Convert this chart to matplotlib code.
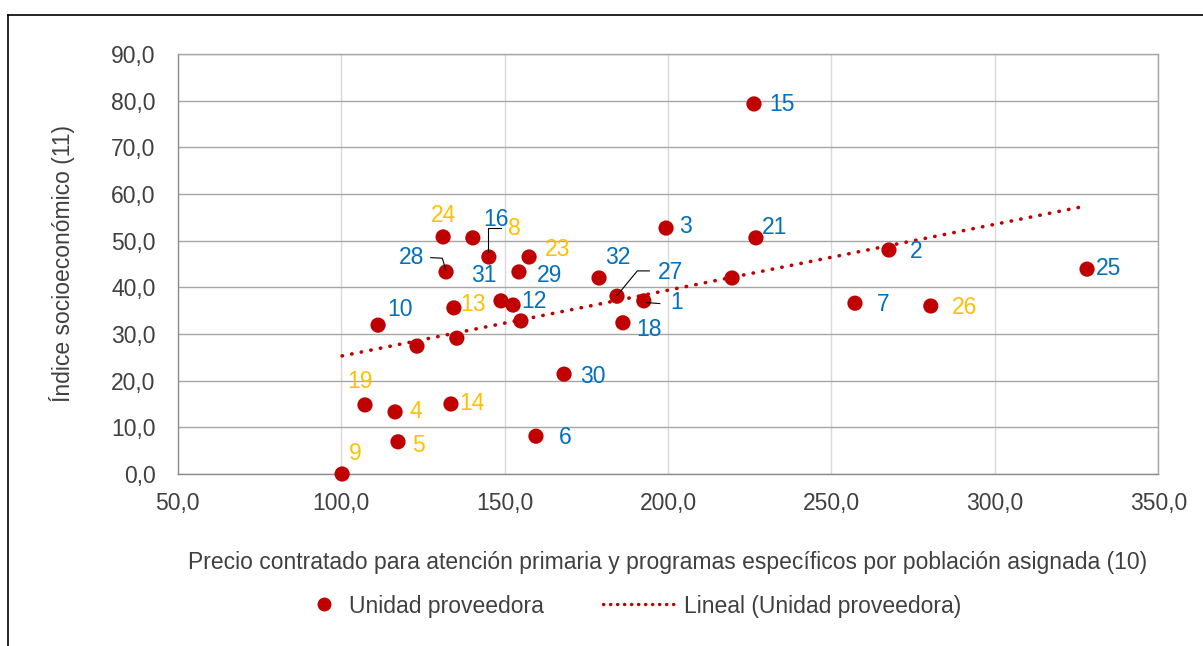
import matplotlib
matplotlib.use("Agg")
import matplotlib.pyplot as plt
import matplotlib.transforms as mtransforms
from matplotlib.lines import Line2D
import numpy as np

# data (x = precio contratado, y = indice socioeconomico)
precio = [226.3, 199.4, 226.9, 267.6, 328.2, 257.2, 280.4, 219.6,
          131.2, 140.3, 145.2, 157.5, 132.1, 154.4, 178.9, 184.4,
          192.6, 148.9, 152.6, 134.5, 111.3, 155.0, 186.2, 135.4,
          123.2, 168.2, 107.3, 116.5, 133.6, 117.4, 159.6, 100.3]
indice = [79.3, 52.7, 50.6, 48.0, 43.9, 36.6, 36.0, 42.0,
          50.8, 50.6, 46.5, 46.5, 43.3, 43.3, 42.0, 38.1,
          37.1, 37.1, 36.2, 35.6, 31.9, 32.8, 32.4, 29.1,
          27.4, 21.4, 14.8, 13.3, 15.0, 6.9, 8.1, 0.0]
etiquetas = ['15', '3', '21', '2', '25', '7', '26', '',
             '24', '8', '16', '23', '28', '29', '32', '27',
             '1', '31', '12', '13', '10', '', '18', '',
             '', '30', '19', '4', '14', '5', '6', '9']
amarillas = ['24', '8', '23', '13', '19', '4', '5', '9', '14', '26']

x_ticks = [50, 100, 150, 200, 250, 300, 350]
y_ticks = [0, 10, 20, 30, 40, 50, 60, 70, 80, 90]

x_title = 'Precio contratado para atención primaria y programas específicos por población asignada (10)'
y_title = 'Índice socioeconómico (11)'
leg_points = 'Unidad proveedora'
leg_trend = 'Lineal (Unidad proveedora)'

# label placement, pixels from the dot (left edge of text, vertical centre)
OFFSETS = {
    '15': (15, -1), '3': (13, 2), '21': (6, 10), '2': (21, -1), '25': (9, 1),
    '7': (22, -1), '26': (21, -1), '24': (-12, 21), '16': (-6, 38), '8': (35, 9),
    '28': (-47, 14), '23': (16, 8), '29': (18, -4), '31': (-30, 25), '32': (6, 20),
    '27': (41, 24), '1': (26, -2), '12': (8, 4), '13': (6, 3), '10': (9, 16),
    '18': (13, -7), '30': (16, -2), '19': (-18, 23), '4': (14, 0), '14': (8, 0),
    '5': (14, -4), '6': (23, -1), '9': (7, 21),
}
# leader lines, pixel vertices relative to the dot
LEADERS = {
    '16': [(11.7, 28.7), (-0.7, 28.7), (-0.7, 5.3)],
    '28': [(-15.3, 14.3), (-3.7, 13.7), (-0.3, 2.0)],
    '27': [(32.3, 25.3), (20.3, 25.3), (0.3, 1.0)],
    '1': [(16.0, -2.7), (2.7, -1.7)],
}

RED = '#C00000'
BLUE = '#0070C0'
YELLOW = '#FFC000'
TEXT = '#404040'
FS = 16.5

plt.rcParams['font.family'] = ['Liberation Sans', 'DejaVu Sans']


def comma(v):
    return ('%.1f' % v).replace('.', ',')


def main():
    fig = plt.figure(figsize=(12.03, 6.46), dpi=100)
    ax = fig.add_axes([177.7 / 1203, 1 - 474 / 646, 980.6 / 1203, 420 / 646])

    ax.set_xlim(50, 350)
    ax.set_ylim(0, 90)
    ax.set_xticks(x_ticks)
    ax.set_yticks(y_ticks)
    ax.set_xticklabels([comma(v) for v in x_ticks])
    ax.set_yticklabels([comma(v) for v in y_ticks])
    ax.tick_params(axis='both', length=0, labelsize=FS, colors=TEXT)
    ax.tick_params(axis='x', pad=13)
    ax.tick_params(axis='y', pad=16)

    ax.xaxis.grid(True, color='#D9D9D9', lw=1.0)
    ax.yaxis.grid(True, color='#A6A6A6', lw=1.0)
    ax.set_axisbelow(True)
    for s in ax.spines.values():
        s.set_color('#A6A6A6')
        s.set_linewidth(1.0)
    ax.spines['left'].set_color('#8C8C8C')
    ax.spines['bottom'].set_color('#8C8C8C')

    # linear trend from the points, drawn over the data range like excel
    xs = np.array(precio)
    ys = np.array(indice)
    m, b = np.polyfit(xs, ys, 1)
    xt = np.array([xs.min(), xs.max()])
    ax.plot(xt, m * xt + b, color=RED, lw=2.6, linestyle=(0, (0.1, 2.6)),
            dash_capstyle='round', zorder=2)

    ax.scatter(precio, indice, s=120, color=RED, edgecolors='none', zorder=3, clip_on=False)

    for x, y, lab in zip(precio, indice, etiquetas):
        if not lab:
            continue
        col = YELLOW if lab in amarillas else BLUE
        dx, dy = OFFSETS[lab]
        ax.annotate(lab, xy=(x, y), xytext=(dx, dy), textcoords='offset pixels',
                    ha='left', va='center', fontsize=FS, color=col, zorder=4)

    fig.canvas.draw()
    for x, y, lab in zip(precio, indice, etiquetas):
        if lab not in LEADERS:
            continue
        px, py = ax.transData.transform((x, y))
        vx = [px + v[0] for v in LEADERS[lab]]
        vy = [py + v[1] for v in LEADERS[lab]]
        fig.add_artist(Line2D(vx, vy, color='black', lw=0.8,
                              transform=mtransforms.IdentityTransform(), zorder=5))

    ax.set_xlabel(x_title, fontsize=FS, color=TEXT)
    ax.xaxis.set_label_coords(0.5, -(551 - 474) / 420)
    ax.set_ylabel(y_title, fontsize=FS, color=TEXT)
    ax.yaxis.set_label_coords(-(177.7 - 75) / 980.6, 0.5)

    # legend, two pieces so the marker and the line get their own handle length
    h1 = Line2D([], [], marker='o', ls='none', color=RED, markersize=9)
    h2 = Line2D([], [], color=RED, lw=2.4, linestyle=(0, (0.1, 2.0)), dash_capstyle='round')
    ly = 1 - 606 / 646
    fig.legend([h1], [leg_points], loc='center left', bbox_to_anchor=(313 / 1203, ly),
               frameon=False, fontsize=FS, handlelength=1.0, handletextpad=0.55,
               borderpad=0, borderaxespad=0, labelcolor=TEXT)
    fig.legend([h2], [leg_trend], loc='center left', bbox_to_anchor=(603 / 1203, ly),
               frameon=False, fontsize=FS, handlelength=3.2, handletextpad=0.35,
               borderpad=0, borderaxespad=0, labelcolor=TEXT)

    # outer frame of the chart object (cut at the right and bottom)
    fig.add_artist(Line2D([8 / 1203, 1], [1 - 15 / 646, 1 - 15 / 646], color='black', lw=1.2))
    fig.add_artist(Line2D([8 / 1203, 8 / 1203], [0, 1 - 15 / 646], color='black', lw=1.2))

    fig.savefig('out.png', dpi=100)


if __name__ == '__main__':
    main()
